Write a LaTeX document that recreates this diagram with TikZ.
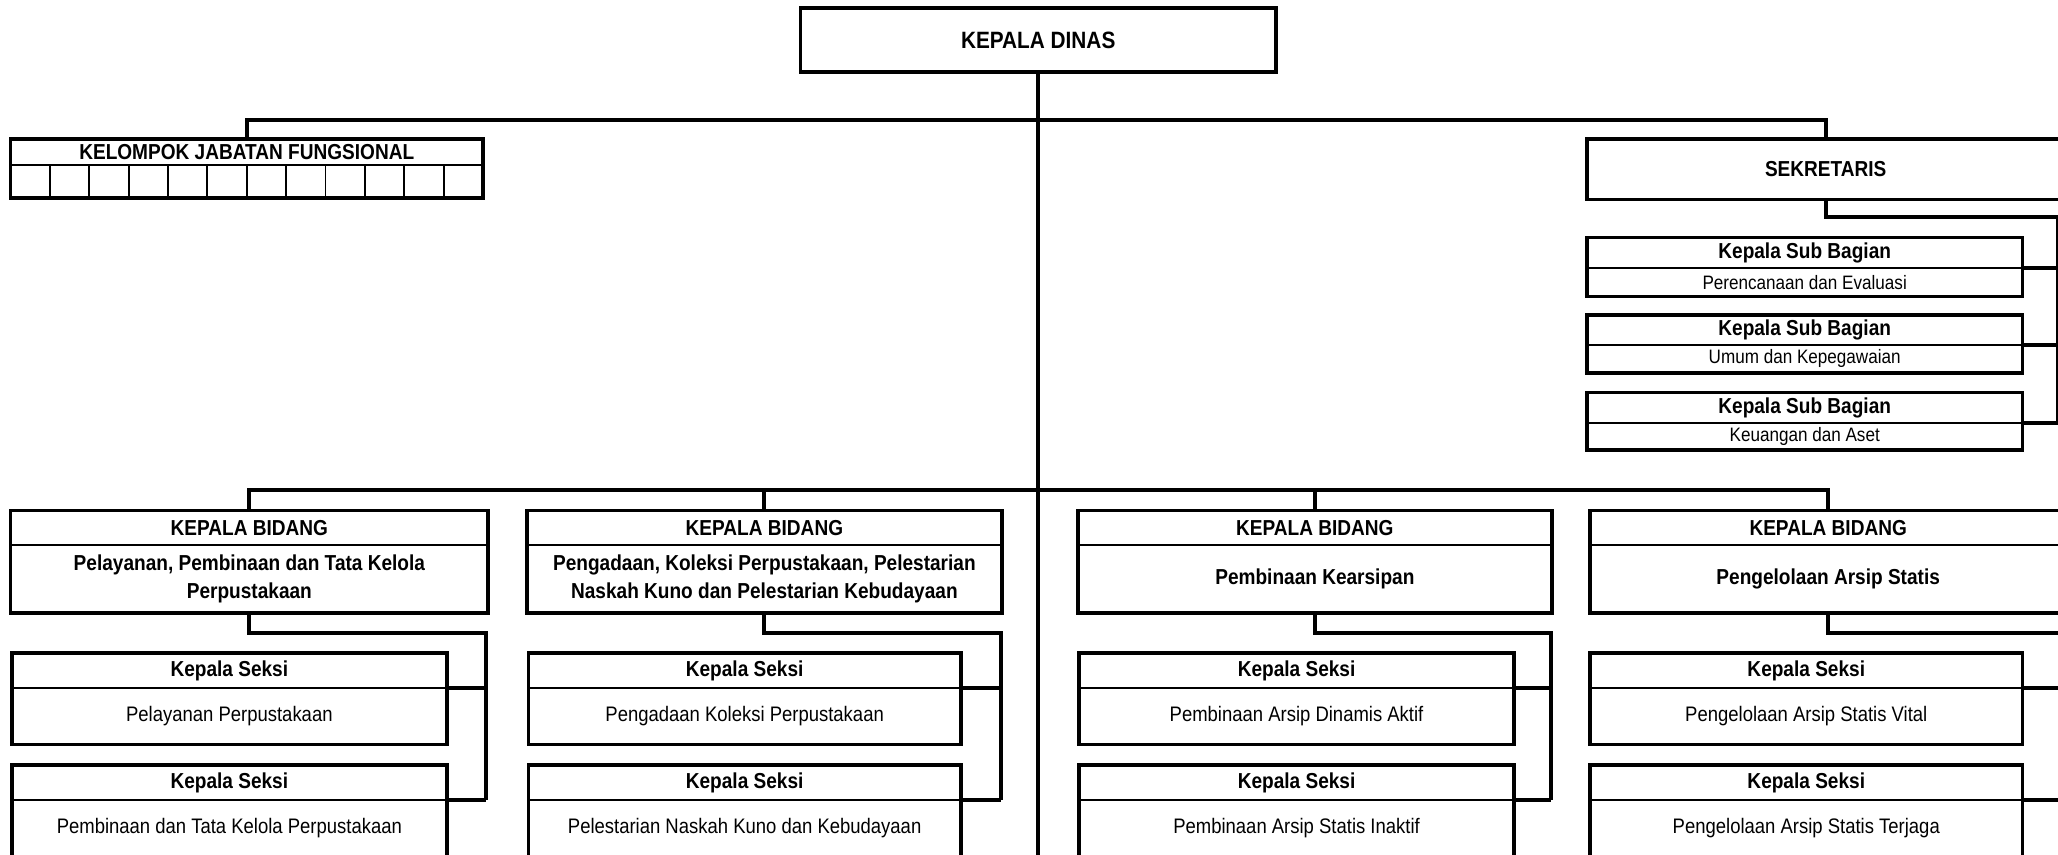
\documentclass[tikz,border=0pt]{standalone}
\usepackage{fontspec}
\setmainfont[FakeStretch=0.88]{Liberation Sans}
\usetikzlibrary{calc}
\begin{document}
\begin{tikzpicture}[x=1pt,y=-1pt,
  part/.style={draw, line width=1.4pt, inner sep=0pt, outer sep=0pt, anchor=north west, align=center},
  kdfont/.style={font=\bfseries\fontsize{18}{20}\selectfont},
  hdfont/.style={font=\bfseries\fontsize{16.5}{20}\selectfont},
  bbfont/.style={font=\bfseries\fontsize{16.5}{21.5}\selectfont},
  rgfont/.style={font=\fontsize{16}{18}\selectfont},
  sbfont/.style={font=\fontsize{14.8}{17}\selectfont},
  frame/.style={draw, line width=2.8pt, line join=miter},
  conn/.style={draw, line width=3pt, line join=miter},
  trunk/.style={draw, line width=3.4pt}]
\useasboundingbox (0,0) rectangle (1568,651);
\clip (0,0) rectangle (1568,651);
\fill[white] (0,0) rectangle (1568,651);

% ---------- head of office ----------
\node[part, kdfont, line width=2.8pt, minimum width=362, minimum height=49] (kd) at (610,6) {KEPALA DINAS};
\coordinate (trunkend) at (791,660);
\draw[trunk] (kd.south) -- (kd.south |- trunkend);

% ---------- functional group ----------
\node[part, hdfont, minimum width=360, minimum height=20] (kjfh) at (8,106) {KELOMPOK JABATAN FUNGSIONAL};
\node[part, minimum width=360, minimum height=25] (kjfc) at (8,126) {};
\foreach \i in {1,...,11}
  \draw[line width=1.4pt] ($(kjfc.north west)!\i/12!(kjfc.north east)$) -- ($(kjfc.south west)!\i/12!(kjfc.south east)$);
\draw[frame] (kjfh.north west) rectangle (kjfc.south east);

% ---------- secretariat ----------
\node[part, hdfont, line width=2.8pt, minimum width=364, minimum height=46] (sek) at (1209,106) {SEKRETARIS};

\node[part, hdfont, minimum width=332, minimum height=23] (sb1h) at (1209,181) {Kepala Sub Bagian};
\node[part, sbfont, minimum width=332, minimum height=22] (sb1) at (1209,204) {Perencanaan dan Evaluasi};
\node[part, hdfont, minimum width=332, minimum height=23] (sb2h) at (1209,240) {Kepala Sub Bagian};
\node[part, sbfont, minimum width=332, minimum height=21] (sb2) at (1209,263) {Umum dan Kepegawaian};
\node[part, hdfont, minimum width=332, minimum height=23] (sb3h) at (1209,299) {Kepala Sub Bagian};
\node[part, sbfont, minimum width=332, minimum height=21] (sb3) at (1209,322) {Keuangan dan Aset};
\foreach \n in {sb1,sb2,sb3}
  \draw[frame] (\n h.north west) rectangle (\n.south east);

% ---------- top bus ----------
\coordinate (topbus) at (791,91.4);
\draw[conn] (kjfh.north) |- (topbus) -| (sek.north);

% secretariat bracket
\coordinate (skb) at (1568,165);
\draw[conn] (sek.south) |- (skb) -- (skb |- sb3h.south);
\foreach \n in {sb1h,sb2h,sb3h}
  \draw[conn] (\n.south east) -- (\n.south east -| skb);

% ---------- divisions ----------
\node[part, hdfont, minimum width=364, minimum height=26] (b1h) at (8,389) {KEPALA BIDANG};
\node[part, bbfont, minimum width=364, minimum height=52] (b1) at (8,415) {Pelayanan, Pembinaan dan Tata Kelola\\Perpustakaan};
\node[part, hdfont, minimum width=362, minimum height=26] (b2h) at (401.4,389) {KEPALA BIDANG};
\node[part, bbfont, minimum width=362, minimum height=52] (b2) at (401.4,415) {Pengadaan, Koleksi Perpustakaan, Pelestarian\\Naskah Kuno dan Pelestarian Kebudayaan};
\node[part, hdfont, minimum width=361, minimum height=26] (b3h) at (821.3,389) {KEPALA BIDANG};
\node[part, bbfont, minimum width=361, minimum height=52] (b3) at (821.3,415) {Pembinaan Kearsipan};
\node[part, hdfont, minimum width=363, minimum height=26] (b4h) at (1211.4,389) {KEPALA BIDANG};
\node[part, bbfont, minimum width=363, minimum height=52] (b4) at (1211.4,415) {Pengelolaan Arsip Statis};
\foreach \n in {b1,b2,b3,b4}
  \draw[frame] (\n h.north west) rectangle (\n.south east);

% lower bus
\coordinate (lowbus) at (791,373.3);
\draw[conn] (b1h.north) |- (lowbus) -| (b4h.north);
\draw[conn] (b2h.north) -- (b2h.north |- lowbus);
\draw[conn] (b3h.north) -- (b3h.north |- lowbus);

% ---------- sections ----------
\newcommand\seksipair[5]{%
  \node[part, hdfont, minimum width=#2, minimum height=27] (#3ah) at (#1,497.5) {Kepala Seksi};
  \node[part, rgfont, minimum width=#2, minimum height=43] (#3a) at (#1,524.3) {#4};
  \node[part, hdfont, minimum width=#2, minimum height=26.5] (#3bh) at (#1,583) {Kepala Seksi};
  \node[part, rgfont, minimum width=#2, minimum height=43] (#3b) at (#1,609.5) {#5};
  \draw[frame] (#3ah.north west) rectangle (#3a.south east);
  \draw[frame] (#3bh.north west) rectangle (#3b.south east);
}
\seksipair{9}{331.5}{sa}{Pelayanan Perpustakaan}{Pembinaan dan Tata Kelola Perpustakaan}
\seksipair{402.7}{329.3}{sb}{Pengadaan Koleksi Perpustakaan}{Pelestarian Naskah Kuno dan Kebudayaan}
\seksipair{822}{331.7}{sc}{Pembinaan Arsip Dinamis Aktif}{Pembinaan Arsip Statis Inaktif}
\seksipair{1211.4}{329.6}{sd}{Pengelolaan Arsip Statis Vital}{Pengelolaan Arsip Statis Terjaga}

% division-to-section brackets
\coordinate (br1) at (370,482);
\coordinate (br2) at (763,482);
\coordinate (br3) at (1182,482);
\coordinate (br4) at (1600,482);
\draw[conn] (b1.south) |- (br1) -- (br1 |- sabh.south);
\draw[conn] (b2.south) |- (br2) -- (br2 |- sbbh.south);
\draw[conn] (b3.south) |- (br3) -- (br3 |- scbh.south);
\draw[conn] (b4.south) |- (br4) -- (br4 |- sdbh.south);
\foreach \s/\b in {sa/br1,sb/br2,sc/br3,sd/br4}{
  \draw[conn] (\s ah.south east) -- (\s ah.south east -| \b);
  \draw[conn] (\s bh.south east) -- (\s bh.south east -| \b);
}
\end{tikzpicture}
\end{document}
